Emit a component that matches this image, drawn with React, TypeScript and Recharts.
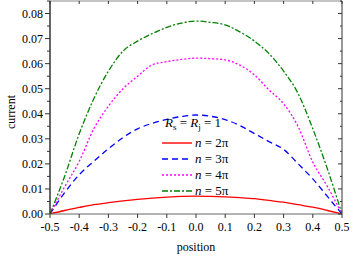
import React from 'react';
import { LineChart, Line, XAxis, YAxis } from 'recharts';

const positions = [-0.5, -0.45, -0.4, -0.35, -0.3, -0.25, -0.2, -0.15, -0.1, -0.05, 0, 0.05, 0.1, 0.15, 0.2, 0.25, 0.3, 0.35, 0.4, 0.45, 0.5];
const current2pi = [0, 0.0014, 0.0026, 0.0037, 0.0045, 0.0052, 0.0058, 0.0063, 0.0067, 0.007, 0.0071, 0.007, 0.0068, 0.0065, 0.0061, 0.0054, 0.0047, 0.0037, 0.0027, 0.0014, 0];
const current3pi = [0, 0.0085, 0.0157, 0.021, 0.026, 0.0305, 0.034, 0.0362, 0.0378, 0.0389, 0.0395, 0.039, 0.0377, 0.0353, 0.0321, 0.0289, 0.0258, 0.02, 0.014, 0.007, 0];
const current4pi = [0, 0.0108, 0.021, 0.034, 0.043, 0.05, 0.055, 0.0595, 0.0608, 0.0617, 0.0622, 0.062, 0.0615, 0.0594, 0.0555, 0.0495, 0.044, 0.0348, 0.0207, 0.011, 0];
const current5pi = [0, 0.015, 0.032, 0.046, 0.057, 0.065, 0.069, 0.072, 0.0745, 0.0762, 0.077, 0.0765, 0.0755, 0.0727, 0.069, 0.064, 0.057, 0.048, 0.034, 0.018, 0];

const seriesNames = ['n2', 'n3', 'n4', 'n5'];
const seriesLabels = ['2π', '3π', '4π', '5π'];
const seriesColors = ['#ff0000', '#0000ff', '#ff00ff', '#008000'];
const seriesDashes = ['', '6 4', '2 2', '6 2 2 2'];

const xTicks = [-0.5, -0.4, -0.3, -0.2, -0.1, 0, 0.1, 0.2, 0.3, 0.4, 0.5];
const yTicks = [0, 0.005, 0.01, 0.015, 0.02, 0.025, 0.03, 0.035, 0.04, 0.045, 0.05, 0.055, 0.06, 0.065, 0.07, 0.075, 0.08, 0.085];

const data = positions.map((p, i) => ({
  position: p,
  n2: current2pi[i],
  n3: current3pi[i],
  n4: current4pi[i],
  n5: current5pi[i],
}));

const FONT = '"Liberation Serif", "Times New Roman", serif';
const isMajor = (v: number) => Math.abs(v * 100 - Math.round(v * 100)) < 1e-6;

const LeftTick = (props: any) => {
  const { x, y, payload } = props;
  const v = payload.value as number;
  if (!isMajor(v)) {
    return <line x1={x} x2={x - 3} y1={y} y2={y} stroke="#333" strokeWidth={1} />;
  }
  return (
    <g>
      <line x1={x} x2={x - 5} y1={y} y2={y} stroke="#333" strokeWidth={1} />
      <text x={x - 7} y={y} dy="0.35em" textAnchor="end" fontFamily={FONT} fontSize={12} fill="#000">
        {v.toFixed(2)}
      </text>
    </g>
  );
};

const RightTick = (props: any) => {
  const { x, y, payload } = props;
  const v = payload.value as number;
  const len = isMajor(v) ? 4 : 2;
  return <line x1={x} x2={x - len} y1={y} y2={y} stroke="#333" strokeWidth={1} />;
};

const BottomTick = (props: any) => {
  const { x, y, payload } = props;
  const v = payload.value as number;
  return (
    <g>
      <line x1={x} x2={x} y1={y} y2={y + 4} stroke="#333" strokeWidth={1} />
      <text x={x} y={y + 17} textAnchor="middle" fontFamily={FONT} fontSize={12} fill="#000">
        {v.toFixed(1)}
      </text>
    </g>
  );
};

const TopTick = (props: any) => {
  const { x, y } = props;
  return <line x1={x} x2={x} y1={y} y2={y + 3} stroke="#333" strokeWidth={1} />;
};

const LegendBox = () => (
  <div
    style={{
      position: 'absolute',
      left: 162,
      top: 115,
      fontFamily: FONT,
      fontSize: 13,
      color: '#000',
      lineHeight: '16px',
    }}
  >
    <div style={{ marginBottom: 4, paddingLeft: 3, whiteSpace: 'nowrap', height: 16 }}>
      <i>R</i>
      <sub style={{ fontSize: 9, lineHeight: 0, verticalAlign: '-3px' }}>s</sub>
      {' = '}
      <i>R</i>
      <sub style={{ fontSize: 9, lineHeight: 0, verticalAlign: '-3px' }}>j</sub>
      {' = 1'}
    </div>
    {seriesNames.map((s, i) => (
      <div key={s} style={{ display: 'flex', alignItems: 'center', height: 16, whiteSpace: 'nowrap' }}>
        <svg width={31} height={16} style={{ display: 'block' }}>
          <line x1={0} x2={30} y1={8} y2={8} stroke={seriesColors[i]} strokeWidth={1.4} strokeDasharray={seriesDashes[i] || undefined} />
        </svg>
        <span style={{ marginLeft: 2 }}>
          <i>n</i> = {seriesLabels[i]}
        </span>
      </div>
    ))}
  </div>
);

export default function App() {
  return (
    <div style={{ position: 'absolute', left: 0, top: 0, width: 353, height: 257, background: '#fff' }}>
      <LineChart width={353} height={257} data={data} margin={{ top: 0, right: 10, left: 0, bottom: 0 }}>
        <XAxis
          dataKey="position"
          type="number"
          domain={[-0.5, 0.5]}
          ticks={xTicks}
          allowDataOverflow
          height={43}
          tickSize={0}
          tickMargin={0}
          tickLine={false}
          tick={BottomTick}
          stroke="#666"
          interval={0}
        />
        <XAxis
          xAxisId="top"
          dataKey="position"
          type="number"
          orientation="top"
          domain={[-0.5, 0.5]}
          ticks={xTicks}
          allowDataOverflow
          height={1}
          tickSize={0}
          tickMargin={0}
          tickLine={false}
          tick={TopTick}
          stroke="#888"
          interval={0}
        />
        <YAxis
          type="number"
          domain={[0, 0.085]}
          ticks={yTicks}
          allowDataOverflow
          width={50}
          tickSize={0}
          tickMargin={0}
          tickLine={false}
          tick={LeftTick}
          stroke="#333"
          strokeWidth={1.5}
          interval={0}
        />
        <YAxis
          yAxisId="right"
          orientation="right"
          type="number"
          domain={[0, 0.085]}
          ticks={yTicks}
          allowDataOverflow
          width={1}
          tickSize={0}
          tickMargin={0}
          tickLine={false}
          tick={RightTick}
          stroke="#333"
          interval={0}
        />
        {seriesNames.map((s, i) => (
          <Line
            key={s}
            dataKey={s}
            type="monotone"
            stroke={seriesColors[i]}
            strokeWidth={1.3}
            strokeDasharray={seriesDashes[i] || undefined}
            dot={false}
            activeDot={false}
            isAnimationActive={false}
          />
        ))}
      </LineChart>
      <LegendBox />
      <svg width={353} height={257} style={{ position: 'absolute', left: 0, top: 0, pointerEvents: 'none' }}>
        <text
          x={0}
          y={0}
          transform="translate(11,112) rotate(-90)"
          textAnchor="middle"
          dominantBaseline="central"
          fontFamily={FONT}
          fontSize={12}
          fill="#000"
        >
          current
        </text>
        <text x={196} y={247} textAnchor="middle" dominantBaseline="central" fontFamily={FONT} fontSize={12} fill="#000">
          position
        </text>
      </svg>
    </div>
  );
}
